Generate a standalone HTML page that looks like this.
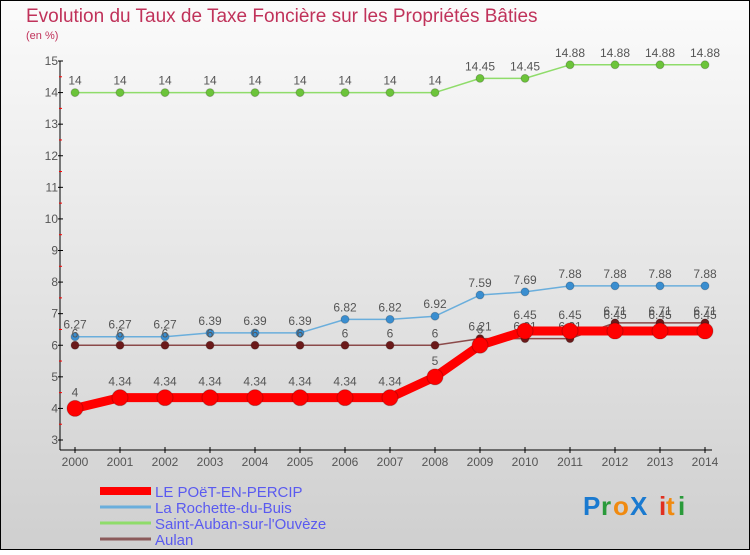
<!DOCTYPE html>
<html><head><meta charset="utf-8"><style>
html,body{margin:0;padding:0}
body{width:750px;height:550px;overflow:hidden}
svg text{font-family:"Liberation Sans",sans-serif}
</style></head><body>
<svg width="750" height="550" viewBox="0 0 750 550">
<defs><linearGradient id="bg" x1="0" y1="0" x2="0" y2="1"><stop offset="0" stop-color="#fbfbfb"/><stop offset="1" stop-color="#cfcfcf"/></linearGradient></defs>
<rect x="0.5" y="0.5" width="749" height="549" fill="url(#bg)" stroke="#000"/>
<text x="26" y="22" font-size="19" fill="#c0325a">Evolution du Taux de Taxe Foncière sur les Propriétés Bâties</text>
<text x="26" y="39" font-size="11" fill="#c0325a">(en %)</text>
<g id="axes"></g>
<g id="series"></g>
<g id="legend"></g>
<g font-size="26" font-family="Liberation Sans" font-weight="bold">
<text x="583" y="515" fill="#1a7ad0">P</text><text x="601" y="515" fill="#2a9a3a">r</text><text x="613" y="515" fill="#f08a10">o</text><text x="630" y="515" fill="#1a7ad0">X</text><text x="659" y="515" fill="#e03020">i</text><text x="666" y="515" fill="#f08a10">t</text><text x="678" y="515" fill="#2a9a3a">i</text>
</g>
</svg>
<script>
const years=[2000,2001,2002,2003,2004,2005,2006,2007,2008,2009,2010,2011,2012,2013,2014];
const yTicks=[3,4,5,6,7,8,9,10,11,12,13,14,15];
const poet=[4,4.34,4.34,4.34,4.34,4.34,4.34,4.34,5,6,6.45,6.45,6.45,6.45,6.45];
const rochette=[6.27,6.27,6.27,6.39,6.39,6.39,6.82,6.82,6.92,7.59,7.69,7.88,7.88,7.88,7.88];
const auban=[14,14,14,14,14,14,14,14,14,14.45,14.45,14.88,14.88,14.88,14.88];
const aulan=[6,6,6,6,6,6,6,6,6,6.21,6.21,6.21,6.71,6.71,6.71];
const names=["LE POëT-EN-PERCIP","La Rochette-du-Buis","Saint-Auban-sur-l'Ouvèze","Aulan"];
const NS="http://www.w3.org/2000/svg";
const X=i=>75+i*(630/(years.length-1));
const Y=v=>440-(v-3)*(379/12);
function mk(t,a,p){const e=document.createElementNS(NS,t);for(const k in a)e.setAttribute(k,a[k]);p.appendChild(e);return e;}
const ax=document.getElementById('axes');
const yl=mk('line',{x1:60,y1:Y(15),x2:60,y2:450,stroke:'#000'},ax);


const xl=mk('line',{x1:60,y1:450,x2:712,y2:450,stroke:'#000'},ax);


yTicks.forEach(v=>{
 mk('line',{x1:58,x2:63,y1:Y(v),y2:Y(v),stroke:'#000'},ax);
 if(v<15)mk('line',{x1:59,x2:62,y1:Y(v+0.5),y2:Y(v+0.5),stroke:'#f00'},ax);
 const t=mk('text',{x:58,y:Y(v)+4,'text-anchor':'end','font-size':12,fill:'#555'},ax);t.textContent=v;
 
 
});
years.forEach((yr,i)=>{
 mk('line',{x1:X(i),x2:X(i),y1:447,y2:453,stroke:'#000'},ax);
 const t=mk('text',{x:X(i),y:466,'text-anchor':'middle','font-size':12,fill:'#555'},ax);t.textContent=yr;
 
 
});
const sg=document.getElementById('series');
function draw(data,color,dot,w,r,name){
 const g=mk('g',{},sg);
 
 
 mk('polyline',{points:data.map((v,i)=>X(i)+','+Y(v)).join(' '),fill:'none',stroke:color,'stroke-width':w,'stroke-linejoin':'round'},g);
 data.forEach((v,i)=>{
  const c=mk('circle',{cx:X(i),cy:Y(v),r:r,fill:dot,stroke:'rgba(0,0,0,0.2)'},g);
  
  
  const t=mk('text',{x:X(i),y:Y(v)-8-(r>5?4:0),'text-anchor':'middle','font-size':12,fill:'#555'},g);t.textContent=String(v);
 });
}
draw(auban,'#8fdc6a','#6cc43a',1.5,4,'series-saint-auban');
draw(rochette,'#6aaedc','#3a8ed0',1.5,4,'series-la-rochette');
draw(aulan,'#8b4a4a','#6b1a1a',1.5,4,'series-aulan');
draw(poet,'#f00','#f00',9,8,'series-le-poet');
const lg=document.getElementById('legend');
const lc=['#f00','#6aaedc','#8fdc6a','#8b5a5a'],lw=[8,3,3,3];
names.forEach((n,i)=>{
 const y=491+i*16;
 const e=mk('g',{},lg);
 
 
 mk('line',{x1:100,x2:151,y1:y,y2:y,stroke:lc[i],'stroke-width':lw[i]},e);
 const t=mk('text',{x:155,y:y+6,'font-size':15,fill:'#5a5af0'},e);t.textContent=n;
});
</script>
</body></html>
